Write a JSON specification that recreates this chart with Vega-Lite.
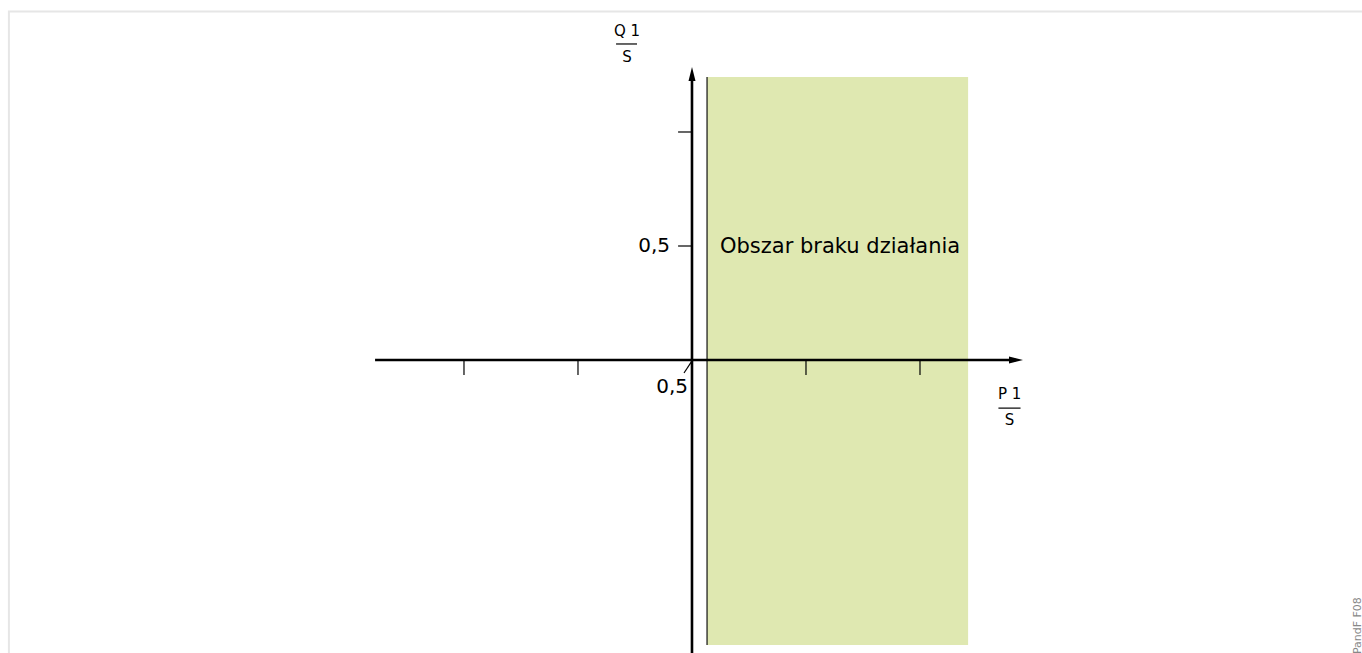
{
  "$schema": "https://vega.github.io/schema/vega-lite/v6.json",
  "width": 1362,
  "height": 653,
  "padding": 0,
  "autosize": "none",
  "config": {"view": {"stroke": null}, "font": "DejaVu Sans"},
  "datasets": {
    "frame": [{"x": -2.996, "y": 1.529, "x2": 3.2, "y2": -1.6}],
    "region": [{"x": 0.066, "y": 1.241, "x2": 1.211, "y2": -1.25}],
    "axes": [
      {"x": -1.39, "y": 0, "x2": 1.42, "y2": 0},
      {"x": 0, "y": -1.4, "x2": 0, "y2": 1.24}
    ],
    "boundary": [{"x": 0.066, "y": -1.25, "x2": 0.066, "y2": 1.241}],
    "ticks": [
      {"x": -1, "y": 0, "x2": -1, "y2": -0.066},
      {"x": -0.5, "y": 0, "x2": -0.5, "y2": -0.066},
      {"x": 0.5, "y": 0, "x2": 0.5, "y2": -0.066},
      {"x": 1, "y": 0, "x2": 1, "y2": -0.066},
      {"x": -0.061, "y": 0.5, "x2": 0, "y2": 0.5},
      {"x": -0.061, "y": 1, "x2": 0, "y2": 1},
      {"x": 0, "y": -0.004, "x2": -0.035, "y2": -0.057},
      {"x": -0.333, "y": 1.386, "x2": -0.241, "y2": 1.386},
      {"x": 1.344, "y": -0.211, "x2": 1.441, "y2": -0.211}
    ],
    "arrows": [
      {"x": 1.421, "y": 0, "angle": 0},
      {"x": 0, "y": 1.254, "angle": 270}
    ],
    "ticklabels": [
      {"x": -0.0965, "y": 0.5, "text": "0,5"},
      {"x": -0.0175, "y": -0.118, "text": "0,5"}
    ],
    "regionlabel": [{"x": 0.1228, "y": 0.4956, "text": "Obszar braku działania"}],
    "fraclabels": [
      {"x": -0.285, "y": 1.443, "text": "Q 1"},
      {"x": -0.285, "y": 1.329, "text": "S"},
      {"x": 1.393, "y": -0.147, "text": "P 1"},
      {"x": 1.393, "y": -0.261, "text": "S"}
    ],
    "code": [{"x": 2.943, "y": -1.04, "text": "PandF F08"}]
  },
  "encoding": {
    "x": {"field": "x", "type": "quantitative", "scale": {"domain": [-3.035, 2.9386], "nice": false, "zero": false}, "axis": null},
    "y": {"field": "y", "type": "quantitative", "scale": {"domain": [-1.285, 1.5789], "nice": false, "zero": false}, "axis": null}
  },
  "layer": [
    {
      "data": {"name": "frame"},
      "mark": {"type": "rect", "fill": null, "stroke": "#e6e6e6", "strokeWidth": 2, "clip": true},
      "encoding": {"x2": {"field": "x2"}, "y2": {"field": "y2"}}
    },
    {
      "data": {"name": "region"},
      "mark": {"type": "rect", "fill": "#dfe8b1", "stroke": null},
      "encoding": {"x2": {"field": "x2"}, "y2": {"field": "y2"}}
    },
    {
      "data": {"name": "boundary"},
      "mark": {"type": "rule", "color": "#111111", "strokeWidth": 1.2},
      "encoding": {"x2": {"field": "x2"}, "y2": {"field": "y2"}}
    },
    {
      "data": {"name": "axes"},
      "mark": {"type": "rule", "color": "#000000", "strokeWidth": 2.6, "clip": true},
      "encoding": {"x2": {"field": "x2"}, "y2": {"field": "y2"}}
    },
    {
      "data": {"name": "ticks"},
      "mark": {"type": "rule", "color": "#000000", "strokeWidth": 1.2},
      "encoding": {"x2": {"field": "x2"}, "y2": {"field": "y2"}}
    },
    {
      "data": {"name": "arrows"},
      "mark": {"type": "point", "shape": "M-1,-0.5L1,0L-1,0.5Z", "filled": true, "color": "#000000", "opacity": 1, "size": 196, "strokeWidth": 0},
      "encoding": {"angle": {"field": "angle", "type": "quantitative", "scale": null}}
    },
    {
      "data": {"name": "ticklabels"},
      "mark": {"type": "text", "fontSize": 20, "align": "right", "baseline": "middle", "color": "#000000"},
      "encoding": {"text": {"field": "text"}}
    },
    {
      "data": {"name": "regionlabel"},
      "mark": {"type": "text", "fontSize": 21, "align": "left", "baseline": "middle", "color": "#000000"},
      "encoding": {"text": {"field": "text"}}
    },
    {
      "data": {"name": "fraclabels"},
      "mark": {"type": "text", "fontSize": 15, "baseline": "middle", "align": "center", "color": "#000000"},
      "encoding": {"text": {"field": "text"}}
    },
    {
      "data": {"name": "code"},
      "mark": {"type": "text", "fontSize": 11, "angle": 270, "align": "right", "baseline": "bottom", "color": "#888888"},
      "encoding": {"text": {"field": "text"}}
    }
  ]
}
